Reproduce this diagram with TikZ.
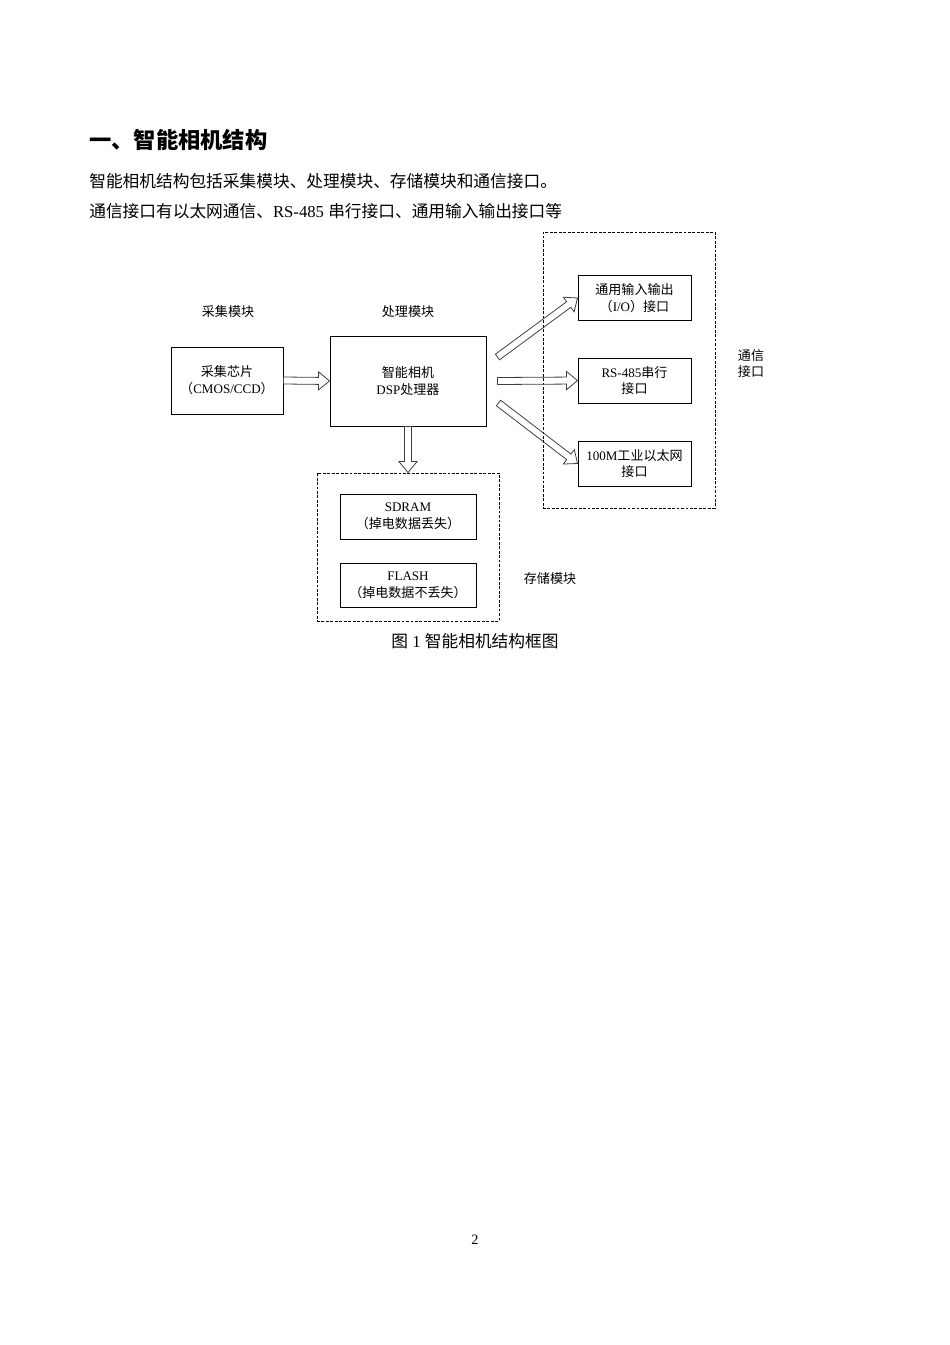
\documentclass[tikz,border=0pt]{standalone}
\usepackage{fontspec}
\setmainfont{Liberation Serif}
\newfontfamily\cjk{Noto Sans CJK SC}
\usetikzlibrary{calc}
\newcommand\px{0.0221cm}
\newcommand\zh[1]{{\cjk #1}}
\newcommand\diagfont{\fontsize{8.2}{10.6}\selectfont}
\newcommand\bodyfont{\fontsize{10.5}{12}\selectfont}
\tikzset{
    modbox/.style={draw=black, line width=0.6pt, minimum width=113*\px, minimum height=45*\px, align=center, inner sep=0pt, font=\diagfont},
    groupbox/.style={draw=black, line width=0.6pt, dash pattern=on 1.8pt off 1pt, inner sep=0pt},
    lbl/.style={align=center, inner sep=0pt, font=\diagfont\cjk},
    fatarrow/.style={draw=black!75, line width=0.5pt, line join=miter, to path={
        ($(\tikztotarget)!6.9pt!(\tikztostart)$) coordinate (fa-h)
        ($(\tikztostart)!2.2pt!90:(\tikztotarget)$) -- ($(fa-h)!2.2pt!90:(\tikztotarget)$)
        -- ($(fa-h)!5.7pt!90:(\tikztotarget)$) -- (\tikztotarget)
        -- ($(fa-h)!5.7pt!-90:(\tikztotarget)$) -- ($(fa-h)!2.2pt!-90:(\tikztotarget)$)
        -- ($(\tikztostart)!2.2pt!-90:(\tikztotarget)$) -- cycle}}
}
\begin{document}
\begin{tikzpicture}[x=\px, y=-\px]
    \useasboundingbox (0,0) rectangle (950,1345);
    % page text
    \node[anchor=west, inner sep=0pt, font=\cjk\bfseries\fontsize{14}{16}\selectfont] (title) at (89,140) {一、智能相机结构};
    \node[anchor=west, inner sep=0pt, font=\bodyfont] (intro) at (89,181) {\zh{智能相机结构包括采集模块、处理模块、存储模块和通信接口。}};
    \node[anchor=west, inner sep=0pt, font=\bodyfont] (comms) at (89,211) {\zh{通信接口有以太网通信、}RS-485 \zh{串行接口、通用输入输出接口等}};
    % acquisition and processing
    \node[lbl] (acqlbl) at (228,312) {采集模块};
    \node[lbl] (proclbl) at (408,312) {处理模块};
    \node[modbox, minimum width=112*\px, minimum height=67*\px] (chip) at (227,380.5) {\zh{采集芯片}\\\zh{（}CMOS/CCD\zh{）}};
    \node[modbox, minimum width=156*\px, minimum height=90*\px] (dsp) at (408,381) {\zh{智能相机}\\DSP\zh{处理器}};
    % communication interfaces
    \node[groupbox, minimum width=172*\px, minimum height=276*\px] (comm) at (629,370) {};
    \node[modbox] (io) at (634.5,298) {\zh{通用输入输出}\\\zh{（}I/O\zh{）接口}};
    \node[modbox] (rs) at (634.5,380.5) {RS-485\zh{串行}\\\zh{接口}};
    \node[modbox] (eth) at (634.5,463.5) {100M\zh{工业以太网}\\\zh{接口}};
    \node[lbl] (commlbl) at (751,363.5) {通信\\接口};
    % storage
    \node[groupbox, minimum width=182*\px, minimum height=148*\px] (store) at (408,547) {};
    \node[modbox, minimum width=136*\px] (sdram) at (408,516.5) {SDRAM\\\zh{（掉电数据丢失）}};
    \node[modbox, minimum width=136*\px, minimum height=44*\px] (flash) at (408,585) {FLASH\\\zh{（掉电数据不丢失）}};
    \node[lbl] (storelbl) at (550,579) {存储模块};
    \node[inner sep=0pt, font=\bodyfont] (caption) at (475,641) {\zh{图} 1 \zh{智能相机结构框图}};
    \node[inner sep=0pt, font=\fontsize{9}{10}\selectfont] (pageno) at (475,1240) {2};
    % hollow arrows
    \coordinate (o1) at ($(dsp.east)+(11,-24)$);
    \coordinate (o2) at ($(dsp.east)+(11,0)$);
    \coordinate (o3) at ($(dsp.east)+(12,22)$);
    \draw[fatarrow] (chip.east) to (dsp.west);
    \draw[fatarrow] (dsp.south) to (store.north);
    \draw[fatarrow] (o1) to (io.west);
    \draw[fatarrow] (o2) to (rs.west);
    \draw[fatarrow] (o3) to (eth.west);
\end{tikzpicture}
\end{document}
